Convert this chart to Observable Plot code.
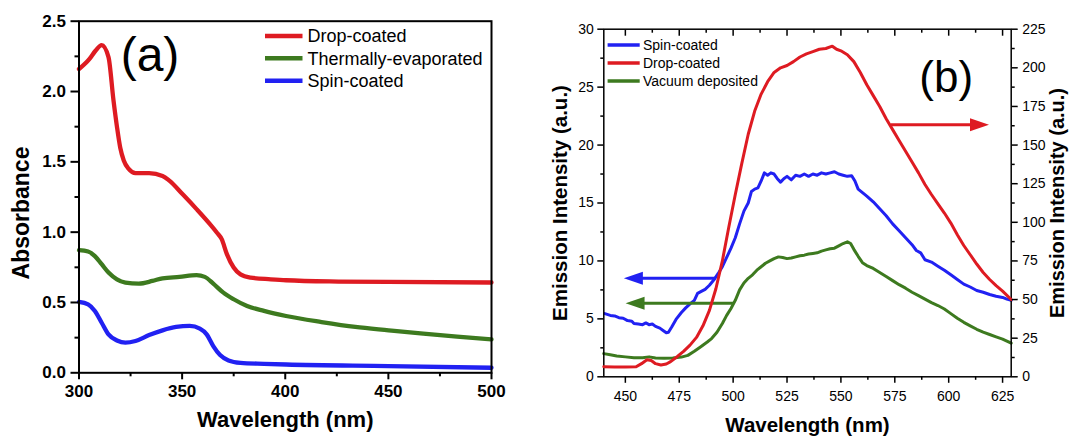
<!DOCTYPE html>
<html>
<head>
<meta charset="utf-8">
<script src="https://cdn.jsdelivr.net/npm/d3@7"></script>
<script src="https://cdn.jsdelivr.net/npm/@observablehq/plot@0.6"></script>
<style>
  body { margin: 0; background: #fff; }
  #wrap { position: relative; width: 1070px; height: 436px; overflow: hidden; background: #fff;
          font-family: "Liberation Sans", Arial, sans-serif; }
  #wrap svg { position: absolute; top: 0; max-width: none; }
</style>
</head>
<body>
<div id="wrap"></div>
<script>
// ---------- Panel (a): absorbance ----------
const dropCoatedAbs = [[300,2.16],[305,2.23],[308,2.29],[311,2.33],[314.3,2.245],[316.7,1.94],[318.4,1.75],[320,1.60],[321.7,1.51],[324.1,1.45],[327.4,1.42],[334,1.42],[340.5,1.40],[343.8,1.366],[350.4,1.267],[357,1.164],[363.5,1.057],[366.8,0.998],[369.2,0.95],[371.7,0.844],[375,0.749],[378.3,0.70],[383.2,0.677],[393,0.665],[400.4,0.658],[425.8,0.649],[450,0.646],[500,0.642]];
const thermalAbs = [[300,0.872],[304.4,0.862],[307.7,0.83],[311,0.772],[314.3,0.713],[318.4,0.665],[322.5,0.642],[329,0.634],[335.6,0.653],[340.5,0.672],[348.7,0.682],[357,0.694],[361,0.682],[365.1,0.634],[370,0.57],[375,0.523],[381.5,0.475],[389.7,0.44],[400.4,0.404],[417.6,0.361],[434,0.326],[450.1,0.302],[466.9,0.278],[483.3,0.257],[500,0.238]];
const spinAbs = [[300,0.504],[304.4,0.487],[307.7,0.44],[311,0.356],[314.3,0.273],[318.4,0.23],[322.5,0.214],[327.4,0.226],[334,0.268],[340.5,0.302],[347.1,0.326],[353.7,0.333],[358.6,0.314],[361.9,0.273],[365.1,0.19],[368.4,0.126],[372.5,0.088],[378.3,0.071],[389.7,0.064],[400.4,0.059],[450.1,0.048],[500,0.036]];
const xTicksA = [300, 350, 400, 450, 500];
const xMinorA = [325, 375, 425, 475];
const yTicksA = [0, 0.5, 1.0, 1.5, 2.0, 2.5];
const yMinorA = [0.25, 0.75, 1.25, 1.75, 2.25];
const legendA = ["Drop-coated", "Thermally-evaporated", "Spin-coated"];

// ---------- Panel (b): emission ----------
const spinEm = [[440.5,5.45],[443,5.3],[445,5.25],[447,5.1],[449,5.05],[451,4.85],[453,4.8],[454,4.6],[456,4.55],[458,4.5],[459.5,4.65],[461,4.5],[462.5,4.55],[464,4.35],[466,4.2],[467.5,4.0],[469,3.8],[470,3.85],[471.5,4.3],[473.5,4.95],[476,5.55],[478,5.95],[480,6.3],[482,6.6],[483.5,7.2],[485,7.35],[487,7.55],[489,7.9],[491,8.35],[493,8.9],[495,9.5],[497,10.3],[499,11.1],[501,12.0],[503,13.2],[505,14.3],[507,15.0],[508.5,16.0],[510,16.2],[511.5,16.3],[513,16.9],[514.5,17.6],[516,17.4],[517.5,17.6],[519,17.5],[520.5,17.1],[522,16.8],[523.5,17.1],[525,17.3],[527,17.0],[529,17.4],[531,17.3],[533,17.5],[535,17.3],[537,17.5],[539,17.4],[541,17.6],[543,17.5],[545,17.6],[547,17.7],[549,17.5],[551,17.4],[553,17.3],[555,17.35],[556.5,16.9],[558,16.2],[560,15.9],[562,15.6],[565,15.1],[568,14.5],[571,13.9],[574,13.2],[577,12.6],[580,12.0],[583,11.4],[585,10.9],[587,10.7],[589,10.1],[592,9.9],[595,9.55],[598,9.2],[601,8.8],[604,8.4],[607,8.0],[610,7.75],[613,7.45],[616,7.3],[619,7.1],[622,6.95],[625,6.85],[627,6.7],[629,6.6]];
const dropEm = [[440,6.5],[445,6.3],[450,6.3],[455,6.5],[457.5,8.5],[460,11],[462,10.5],[464,8.5],[466.5,7.6],[469,8.3],[471,9.8],[474,13],[477,16.5],[480,20.5],[483,25.5],[486,33],[489,43],[492,57],[495,75],[498,97],[501,118],[504,138],[507,157],[510,172],[513,183],[516,191],[519,197],[522,200],[525,201.5],[528,204],[531,207],[534,209],[537,210.5],[540,212],[543,212.5],[546,214],[548,212],[550,211],[553,208.5],[556,204],[559,197],[562,189],[565,182],[568,175],[571,167],[574,160],[577,153],[580,146],[583,139],[586,132],[589,124.5],[592,118],[595,112],[598,106],[601,99.5],[604,92],[607,85],[610,79],[613,73],[616,67.5],[619,63],[622,59],[625,55.5],[629,50]];
const vacuumEm = [[440,2.0],[443,1.9],[446,1.8],[450,1.72],[454,1.65],[458,1.65],[461,1.72],[464,1.62],[468,1.6],[472,1.63],[476,1.7],[479,1.85],[482,2.2],[485,2.6],[488,3.0],[490,3.3],[492.5,3.85],[495,4.6],[497,5.3],[499,5.9],[501,6.6],[503,7.5],[505,8.1],[507,8.5],[509,8.8],[511,9.2],[513,9.5],[515,9.8],[517,10.0],[519,10.2],[521,10.35],[523,10.3],[525,10.2],[527,10.25],[529,10.35],[531,10.45],[533,10.5],[535,10.6],[537,10.65],[539,10.7],[541,10.85],[543,10.95],[545,11.05],[547,11.1],[549,11.3],[551,11.5],[553,11.65],[554.5,11.5],[556,11.0],[558,10.4],[560,9.85],[562,9.6],[565,9.35],[568,9.0],[571,8.65],[574,8.3],[577,7.95],[580,7.65],[583,7.3],[586,7.0],[589,6.7],[592,6.4],[595,6.15],[598,5.85],[601,5.45],[604,5.05],[607,4.7],[610,4.4],[613,4.1],[616,3.85],[619,3.65],[622,3.45],[625,3.25],[629,2.9]];
const xTicksB = [450, 475, 500, 525, 550, 575, 600, 625];
const xMinorB = [462.5, 487.5, 512.5, 537.5, 562.5, 587.5, 612.5];
const yTicksB = [0, 5, 10, 15, 20, 25, 30];
const yMinorB = [2.5, 7.5, 12.5, 17.5, 22.5, 27.5];
const yTicksB2 = [0, 25, 50, 75, 100, 125, 150, 175, 200, 225];
const yMinorB2 = [12.5, 37.5, 62.5, 87.5, 112.5, 137.5, 162.5, 187.5, 212.5];
const legendB = ["Spin-coated", "Drop-coated", "Vacuum deposited"];
// arrows: start wavelength, tip wavelength, intensity
const arrowSpin = {x1: 491.9, x2: 449.3, y: 8.5};
const arrowVacuum = {x1: 500.3, x2: 450.1, y: 6.35};
const arrowDrop = {x1: 573.1, x2: 618.7, y: 163.1};

// ---------- styles ----------
const RED = "#de1b22", GREEN = "#3d7a1f", BLUE = "#2121f2";
const FONT = "Liberation Sans, Arial, Helvetica, sans-serif";
const wrap = d3.select("#wrap");

const headRight = {draw(ctx) { ctx.moveTo(0, 0); ctx.lineTo(-19, -6.5); ctx.lineTo(-19, 6.5); ctx.closePath(); }};
const headLeft  = {draw(ctx) { ctx.moveTo(0, 0); ctx.lineTo(19, -6.5); ctx.lineTo(19, 6.5); ctx.closePath(); }};
function arrowMarks(a, color, dir) {
  return [
    Plot.arrow([a], {x1: "x1", x2: "x2", y1: "y", y2: "y", stroke: color, strokeWidth: 3,
                     headLength: 0, insetEnd: 12, strokeLinecap: "butt"}),
    Plot.dot([a], {x: "x2", y: "y", symbol: dir > 0 ? headRight : headLeft, fill: color, stroke: "none", r: 5})
  ];
}

// ---------- Panel (a) ----------
const pA = Plot.plot({
  width: 535, height: 436,
  marginLeft: 78.5, marginRight: 44, marginTop: 20.7, marginBottom: 63.7,
  x: {domain: [300, 500], axis: null},
  y: {domain: [0, 2.5], axis: null},
  style: {fontFamily: FONT, background: "white", color: "black", overflow: "visible"},
  marks: [
    Plot.line(dropCoatedAbs, {x: d => d[0], y: d => d[1], stroke: RED, strokeWidth: 4.3, curve: "monotone-x"}),
    Plot.line(thermalAbs, {x: d => d[0], y: d => d[1], stroke: GREEN, strokeWidth: 4.3, curve: "monotone-x"}),
    Plot.line(spinAbs, {x: d => d[0], y: d => d[1], stroke: BLUE, strokeWidth: 4.3, curve: "monotone-x"}),
    Plot.axisX({ticks: xTicksA, tickSize: 7, tickPadding: 5, fontSize: 17, fontWeight: "bold", strokeWidth: 2, label: null}),
    Plot.axisX({ticks: xMinorA, tickSize: 4, fill: "none", strokeWidth: 2, label: null}),
    Plot.axisY({ticks: yTicksA, tickFormat: d3.format(".1f"), tickSize: 8, tickPadding: 5, fontSize: 17, fontWeight: "bold", strokeWidth: 2, label: null}),
    Plot.axisY({ticks: yMinorA, tickSize: 4, fill: "none", strokeWidth: 2, label: null}),
    Plot.frame({stroke: "black", strokeWidth: 2}),
    Plot.text(["Absorbance"], {text: d => d, frameAnchor: "left", textAnchor: "middle", lineAnchor: "middle",
                               rotate: -90, dx: -57.5, dy: 16, fontSize: 23, fontWeight: "bold"}),
    Plot.text(["Wavelength (nm)"], {text: d => d, frameAnchor: "bottom", textAnchor: "middle", lineAnchor: "middle",
                                    dy: 47.2, fontSize: 22, fontWeight: "bold"}),
    Plot.text(["(a)"], {text: d => d, frameAnchor: "top-left", textAnchor: "middle", lineAnchor: "middle",
                        dx: 71, dy: 34.5, fontSize: 48})
  ]
});
d3.select(pA).style("left", "0px");
wrap.node().appendChild(pA);

// ---------- Panel (b), left scale ----------
const marginsB = {marginLeft: 68.3, marginRight: 59.3, marginTop: 28.7, marginBottom: 59.7};
const pB = Plot.plot({
  width: 535, height: 436, ...marginsB,
  x: {domain: [440, 629], axis: null},
  y: {domain: [0, 30], axis: null},
  style: {fontFamily: FONT, background: "white", color: "black", overflow: "visible"},
  marks: [
    Plot.line(spinEm, {x: d => d[0], y: d => d[1], stroke: BLUE, strokeWidth: 3}),
    Plot.line(vacuumEm, {x: d => d[0], y: d => d[1], stroke: GREEN, strokeWidth: 3}),
    ...arrowMarks(arrowSpin, BLUE, -1),
    ...arrowMarks(arrowVacuum, GREEN, -1),
    Plot.axisX({ticks: xTicksB, tickSize: 6.5, tickPadding: 8, fontSize: 14, strokeWidth: 1.5, label: null}),
    Plot.axisX({ticks: xMinorB, tickSize: 3.5, fill: "none", strokeWidth: 1.5, label: null}),
    Plot.axisX({anchor: "top", ticks: xTicksB, tickSize: 6, dy: 6, fill: "none", strokeWidth: 1.5, label: null}),
    Plot.axisX({anchor: "top", ticks: xMinorB, tickSize: 3, dy: 3, fill: "none", strokeWidth: 1.5, label: null}),
    Plot.axisY({ticks: yTicksB, tickSize: 6, tickPadding: 4, fontSize: 14, strokeWidth: 1.5, label: null}),
    Plot.axisY({ticks: yMinorB, tickSize: 3, fill: "none", strokeWidth: 1.5, label: null}),
    Plot.frame({stroke: "black", strokeWidth: 1.5}),
    Plot.text(["Emission Intensity (a.u.)"], {text: d => d, frameAnchor: "left", textAnchor: "middle", lineAnchor: "middle",
                                 rotate: -90, dx: -43, dy: 0, fontSize: 20.5, fontWeight: "bold"}),
    Plot.text(["Emission Intensity (a.u.)"], {text: d => d, frameAnchor: "right", textAnchor: "middle", lineAnchor: "middle",
                                 rotate: -90, dx: 46, dy: 0, fontSize: 20, fontWeight: "bold"}),
    Plot.text(["Wavelength (nm)"], {text: d => d, frameAnchor: "bottom", textAnchor: "middle", lineAnchor: "middle",
                                    dy: 49, fontSize: 20.5, fontWeight: "bold"}),
    Plot.text(["(b)"], {text: d => d, frameAnchor: "top-right", textAnchor: "middle", lineAnchor: "middle",
                        dx: -65, dy: 48.3, fontSize: 44})
  ]
});
d3.select(pB).style("left", "535px");
wrap.node().appendChild(pB);

// ---------- Panel (b), right scale (drop-coated) ----------
const pB2 = Plot.plot({
  width: 535, height: 436, ...marginsB,
  x: {domain: [440, 629], axis: null},
  y: {domain: [0, 225], axis: null},
  style: {fontFamily: FONT, background: "transparent", color: "black", overflow: "visible"},
  marks: [
    Plot.line(dropEm, {x: d => d[0], y: d => d[1], stroke: RED, strokeWidth: 3}),
    ...arrowMarks(arrowDrop, RED, 1),
    Plot.axisY({anchor: "right", ticks: yTicksB2, tickSize: 6, tickPadding: 5, fontSize: 14, strokeWidth: 1.5, label: null}),
    Plot.axisY({anchor: "right", ticks: yMinorB2, tickSize: 3, fill: "none", strokeWidth: 1.5, label: null})
  ]
});
d3.select(pB2).style("left", "535px");
wrap.node().appendChild(pB2);

// ---------- Legends ----------
const ov = wrap.append("svg").attr("width", 1070).attr("height", 436).style("left", "0px")
  .attr("font-family", FONT);
const colorsA = [RED, GREEN, BLUE];
legendA.forEach((name, i) => {
  const y = 36 + i * 22.35;
  ov.append("line").attr("x1", 265).attr("x2", 302.5).attr("y1", y).attr("y2", y)
    .attr("stroke", colorsA[i]).attr("stroke-width", 4.5);
  ov.append("text").attr("x", 307.5).attr("y", y + 6.3).attr("font-size", 18).attr("fill", "black").text(name);
});
const colorsB = [BLUE, RED, GREEN];
legendB.forEach((name, i) => {
  const y = 45 + i * 18;
  ov.append("line").attr("x1", 607.6).attr("x2", 639.7).attr("y1", y).attr("y2", y)
    .attr("stroke", colorsB[i]).attr("stroke-width", 3.5);
  ov.append("text").attr("x", 643).attr("y", y + 5).attr("font-size", 14).attr("fill", "black").text(name);
});
</script>
</body>
</html>
